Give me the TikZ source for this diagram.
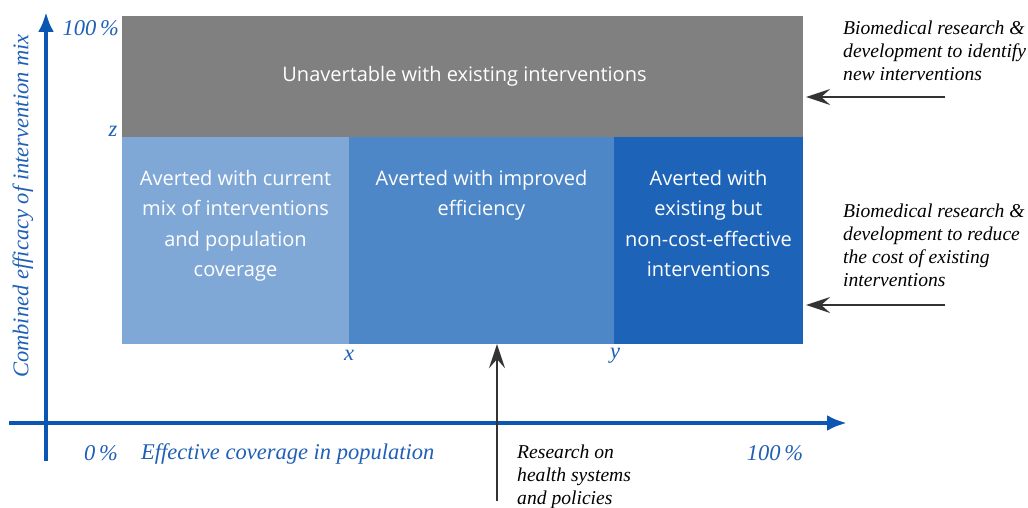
\documentclass[tikz,border=0pt]{standalone}
\usepackage{fontspec}
\setmainfont{Liberation Serif}
\setsansfont{Open Sans}
\usetikzlibrary{arrows.meta,positioning}
\definecolor{unavgray}{HTML}{808080}
\definecolor{lightblue}{HTML}{80A8D7}
\definecolor{midblue}{HTML}{4D87C7}
\definecolor{darkblue}{HTML}{1D63B8}
\definecolor{axisblue}{HTML}{0B56B2}
\definecolor{labelblue}{HTML}{1F60B6}
\tikzset{
  region/.style={inner sep=0pt, draw=none},
  boxtext/.style={inner sep=0pt, text=white, align=center, font=\sffamily\fontsize{20}{30.5}\selectfont},
  axislabel/.style={inner sep=0pt, text=labelblue, font=\itshape\fontsize{22.5}{26}\selectfont},
  note/.style={inner sep=0pt, anchor=north west, align=left, font=\itshape\fontsize{19.6}{23}\selectfont},
  axis/.style={line width=4pt, draw=axisblue, -{Latex[length=20pt,width=16pt]}},
  research/.style={line width=1.8pt, draw=black!80, -{Stealth[length=24pt,width=16pt,inset=9pt]}}
}
\begin{document}
\begin{tikzpicture}[x=1pt,y=-1pt]
  \useasboundingbox (0,0) rectangle (1028,508);
  % regions of the chart
  \node[region, fill=unavgray, minimum width=681pt, minimum height=121pt] (unav) at (462.5,76.5) {};
  \node[region, fill=lightblue, minimum width=227pt, minimum height=207pt] (light) at (235.5,240.5) {};
  \node[region, fill=midblue, minimum width=265pt, minimum height=207pt] (mid) at (481.5,240.5) {};
  \node[region, fill=darkblue, minimum width=189pt, minimum height=207pt] (dark) at (708.5,240.5) {};
  \node[boxtext] (unavtext) at ([xshift=2pt]unav) {Unavertable with existing interventions};
  \node[boxtext, below=33pt of light.north] (lighttext) {Averted with current\\mix of interventions\\and population\\coverage};
  \node[boxtext, below=33pt of mid.north] (midtext) {Averted with improved\\efficiency};
  \node[boxtext, below=33pt of dark.north] (darktext) {Averted with\\existing but\\non-cost-effective\\interventions};
  % axes
  \coordinate (ybot) at (46,461);
  \coordinate (ytip) at (46,12);
  \coordinate (xleft) at (9,423);
  \coordinate (xtip) at (847,423);
  \draw[axis] (ybot) -- (ytip);
  \draw[axis] (xleft) -- (xtip);
  \node[axislabel, rotate=90] (ylabel) at (23,206) {Combined efficacy of intervention mix};
  \node[axislabel, anchor=east] (ytop) at (119,28) {100\,\%};
  \node[axislabel] (zlabel) at (113,131) {z};
  \node[axislabel] (xlabel) at (349,355) {x};
  \node[axislabel] (ylab) at (615,356) {y};
  \node[axislabel] (xzero) at (101,453) {0\,\%};
  \node[axislabel, anchor=west] (xtitle) at (141,454) {Effective coverage in population};
  \node[axislabel] (xfull) at (775,453) {100\,\%};
  % research arrows
  \coordinate (newint) at (945,97);
  \coordinate (costint) at (945,305);
  \coordinate (hsys) at (497,501);
  \draw[research] (newint) -- ([xshift=3pt]unav.east |- newint);
  \draw[research] (costint) -- ([xshift=3pt]dark.east |- costint);
  \draw[research] (hsys) -- (hsys |- mid.south);
  \node[note] (newtext) at (843,21) {Biomedical research \&\\development to identify\\new interventions};
  \node[note] (costtext) at (843,204) {Biomedical research \&\\development to reduce\\the cost of existing\\interventions};
  \node[note] (hsystext) at (517,445) {Research on\\health systems\\and policies};
\end{tikzpicture}
\end{document}
